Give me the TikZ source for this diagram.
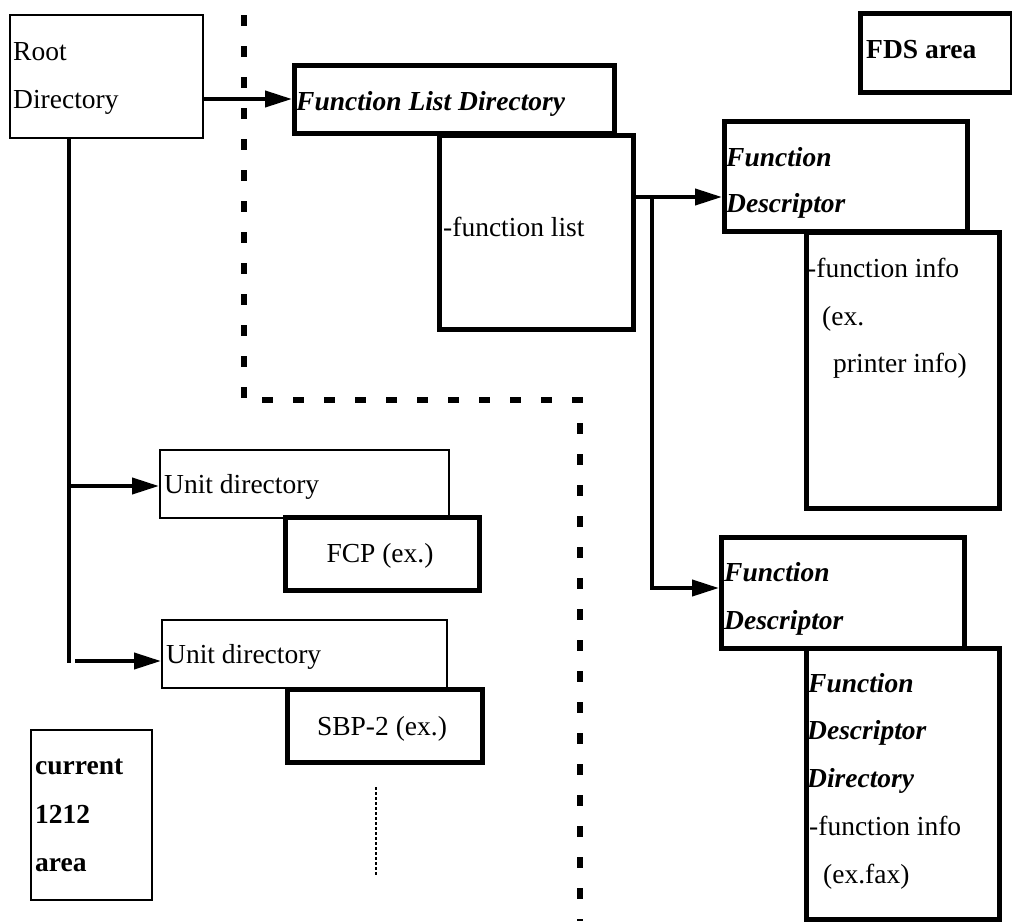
\documentclass[tikz,border=0pt]{standalone}
\usepackage{fontspec}
\setmainfont{Liberation Serif}
\usetikzlibrary{arrows.meta}
\begin{document}
\begin{tikzpicture}[x=1pt,y=-1pt,
  thinbox/.style={draw, line width=1.6pt, fill=white, inner sep=0pt, anchor=north west},
  thickbox/.style={draw, line width=4.5pt, fill=white, inner sep=0pt, anchor=north west},
  txt/.style={anchor=base west, inner sep=0pt, font=\fontsize{27.5}{33}\selectfont},
  txtc/.style={anchor=base, inner sep=0pt, font=\fontsize{27.5}{33}\selectfont},
  bi/.style={txt, font=\fontsize{27.5}{33}\selectfont\bfseries\itshape},
  bf/.style={txt, font=\fontsize{27.5}{33}\selectfont\bfseries},
  wire/.style={line width=4pt, line join=miter},
  link/.style={wire, -{Triangle[length=27pt,width=16pt]}},
  border/.style={line width=6pt, dash pattern=on 10.5pt off 20.5pt},
  dots/.style={line width=1.6pt, dash pattern=on 2.5pt off 2.5pt},
]
\useasboundingbox (0,0) rectangle (1012,921);

% area boundary between the current 1212 area and the FDS area
\coordinate (d0) at (244,15);
\coordinate (d1) at (244,400);
\coordinate (d2) at (580,400);
\coordinate (d3) at (580,921);
\draw[border] (d0) -- (d1) -- (d2) -- (d3);

% boxes
\node[thinbox,  minimum width=193pt, minimum height=123pt] (root)    at (9,14)    {};
\node[thickbox, minimum width=320pt, minimum height=68pt]  (fld)     at (292,63)  {};
\node[thickbox, minimum width=194pt, minimum height=194pt] (flist)   at (437,133) {};
\node[thickbox, minimum width=152pt, minimum height=79pt]  (fds)     at (858,11)  {};
\node[thickbox, minimum width=243pt, minimum height=110pt] (fd1)     at (722,119) {};
\node[thickbox, minimum width=193pt, minimum height=276pt] (finfo)   at (804,230) {};
\node[thickbox, minimum width=243pt, minimum height=111pt] (fd2)     at (719,535) {};
\node[thickbox, minimum width=193pt, minimum height=271pt] (fdd)     at (804,646) {};
\node[thinbox,  minimum width=289pt, minimum height=68pt]  (unit1)   at (159,449) {};
\node[thickbox, minimum width=194pt, minimum height=73pt]  (fcp)     at (283,515) {};
\node[thinbox,  minimum width=285pt, minimum height=68pt]  (unit2)   at (161,619) {};
\node[thickbox, minimum width=195pt, minimum height=73pt]  (sbp)     at (285,687) {};
\node[thinbox,  minimum width=121pt, minimum height=170pt] (current) at (30,729)  {};

% texts
\node[txt] (rootA) at (13,60)  {Root};
\node[txt] (rootB) at (13,108) {Directory};
\node[bi]  (fldA)  at (296,110) {Function List Directory};
\node[txt] (flistA) at (443,236) {-function list};
\node[bf]  (fdsA)  at (866,58) {FDS area};
\node[bi]  (fd1A)  at (726,166) {Function};
\node[bi]  (fd1B)  at (726,212) {Descriptor};
\node[txt] (finfoA) at (807,277) {-function info};
\node[txt] (finfoB) at (822,325) {(ex.};
\node[txt] (finfoC) at (833,372) {printer info)};
\node[bi]  (fd2A)  at (724,581) {Function};
\node[bi]  (fd2B)  at (724,629) {Descriptor};
\node[bi]  (fddA)  at (808,692) {Function};
\node[bi]  (fddB)  at (807,739) {Descriptor};
\node[bi]  (fddC)  at (807,787) {Directory};
\node[txt] (fddD)  at (809,835) {-function info};
\node[txt] (fddE)  at (823,883) {(ex.fax)};
\node[txt] (unit1A) at (164,493) {Unit directory};
\node[txtc] (fcpA) at (380,562) {FCP (ex.)};
\node[txt] (unit2A) at (166,663) {Unit directory};
\node[txtc] (sbpA) at (382,735) {SBP-2 (ex.)};
\node[bf]  (curA)  at (35,774) {current};
\node[bf]  (curB)  at (35,823) {1212};
\node[bf]  (curC)  at (35,871) {area};

% connectors
\coordinate (r1) at (0,99);
\draw[link] (r1 -| root.east) -- (r1 -| fld.west);

\coordinate (tTop) at (69,137);
\coordinate (tBot) at (69,663);
\draw[wire] (tTop) -- (tBot);
\coordinate (j1) at (69,486);
\draw[link] (j1) -- (j1 -| unit1.west);
\coordinate (j2) at (75,661);
\draw[link] (j2) -- (j2 -| unit2.west);

\coordinate (b0) at (652,197);
\coordinate (b1) at (0,588);
\draw[link] (b0 -| flist.east) -- (b0 -| fd1.west);
\draw[link] (b0) |- (b1 -| fd2.west);

% continuation marks below SBP-2
\coordinate (e0) at (376,787);
\coordinate (e1) at (376,875);
\draw[dots] (e0) -- (e1);
\end{tikzpicture}
\end{document}
